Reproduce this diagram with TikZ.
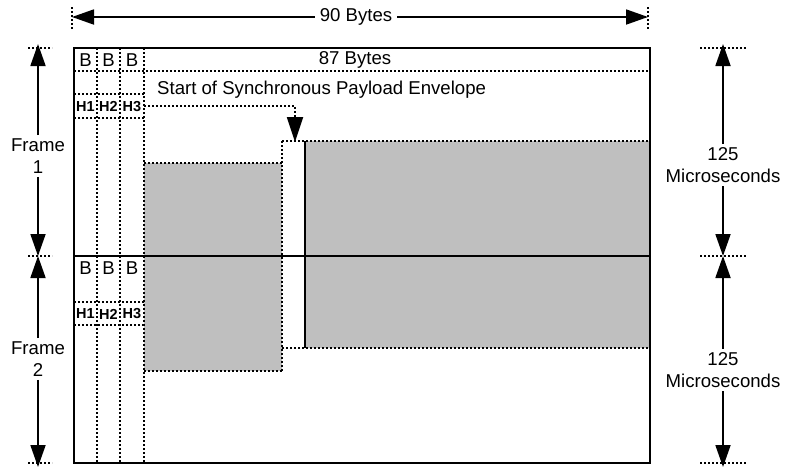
\documentclass[tikz,border=0pt]{standalone}
\usepackage{fontspec}
\setmainfont{Liberation Sans}
\usetikzlibrary{arrows.meta}
\begin{document}
\begin{tikzpicture}[x=1pt,y=-1pt,
  solidln/.style={line width=1.8pt},
  dotln/.style={line width=1.8pt,dash pattern=on 1.8pt off 2.2pt},
  arr/.style={line width=1.8pt,-{Triangle[length=22pt,width=15pt]}},
  lbl/.style={font=\fontsize{18.6}{22.5}\selectfont,inner sep=3pt,align=center},
  hlbl/.style={font=\fontsize{14.5}{16}\selectfont\bfseries,inner sep=0pt},
  blbl/.style={font=\fontsize{18.6}{22}\selectfont,inner sep=0pt},
  grayfill/.style={fill=black!25,draw=none}]
\useasboundingbox (0,0) rectangle (785,467);
% gray payload areas
\fill[grayfill] (144,163) rectangle (282,371);
\fill[grayfill] (305,141) rectangle (650,348);
% coordinates
\coordinate (tl) at (72,17);
\coordinate (tr) at (648,17);
\coordinate (f1t) at (38,44);
\coordinate (fm) at (38,256);
\coordinate (f2b) at (38,467);
\coordinate (m1t) at (723,44);
\coordinate (mm) at (723,256);
\coordinate (m2b) at (723,467);
\coordinate (spe) at (295,142);
% dotted column lines
\draw[dotln] (97,48) -- (97,463);
\draw[dotln] (120,48) -- (120,463);
\draw[dotln] (144,48) -- (144,463);
% 87 bytes line
\draw[dotln] (74,71) -- (650,71);
% H rows
\draw[dotln] (74,94) -- (144,94);
\draw[dotln] (74,118) -- (144,118);
\draw[dotln] (74,302) -- (144,302);
\draw[dotln] (74,325) -- (144,325);
% gray borders
\draw[dotln] (144,163) -- (282,163);
\draw[dotln] (144,371) -- (282,371);
\draw[dotln] (282,141) -- (282,371);
\draw[dotln] (282,141) -- (650,141);
\draw[dotln] (282,348) -- (650,348);
% ticks
\draw[dotln] (72,7) -- (72,29);
\draw[dotln] (648,7) -- (648,29);
\draw[dotln] (28,48) -- (52,48);
\draw[dotln] (28,256) -- (52,256);
\draw[dotln] (28,463) -- (52,463);
\draw[dotln] (700,48) -- (746,48);
\draw[dotln] (700,256) -- (746,256);
\draw[dotln] (700,463) -- (746,463);
% SPE pointer
\draw[dotln,-{Triangle[length=25pt,width=16pt]}] (144,106) -- (295,106) -- (spe);
% solid lines
\draw[solidln] (74,48) rectangle (650,463);
\draw[solidln] (74,256) -- (650,256);
\draw[solidln] (305,141) -- (305,348);
% labels in cells
\node[blbl] (b11) at (85.5,60) {B};
\node[blbl] (b12) at (108.5,60) {B};
\node[blbl] (b13) at (132,60) {B};
\node[blbl] (b21) at (85.5,268.5) {B};
\node[blbl] (b22) at (108.5,268.5) {B};
\node[blbl] (b23) at (132,268.5) {B};
\node[hlbl] (h11) at (85.5,106.5) {H1};
\node[hlbl] (h12) at (108.5,106.5) {H2};
\node[hlbl] (h13) at (132,106.5) {H3};
\node[hlbl] (h21) at (85.5,314) {H1};
\node[hlbl] (h22) at (108.5,314) {H2};
\node[hlbl] (h23) at (132,314) {H3};
\node[lbl,inner sep=0pt] (b87) at (355,60) {87 Bytes};
\node[lbl,inner sep=0pt,anchor=west] (spel) at (157,90) {Start of Synchronous Payload Envelope};
% dimension arrows
\node[lbl,inner sep=5pt] (b90) at (356,17) {90 Bytes};
\draw[arr] (b90) -- (tl);
\draw[arr] (b90) -- (tr);
\node[lbl] (fr1) at (38,156) {Frame\\1};
\draw[arr] (fr1) -- (f1t);
\draw[arr] (fr1) -- (fm);
\node[lbl] (fr2) at (38,359) {Frame\\2};
\draw[arr] (fr2) -- (fm);
\draw[arr] (fr2) -- (f2b);
\node[lbl] (us1) at (723,165) {125\\Microseconds};
\draw[arr] (us1) -- (m1t);
\draw[arr] (us1) -- (mm);
\node[lbl] (us2) at (723,370) {125\\Microseconds};
\draw[arr] (us2) -- (mm);
\draw[arr] (us2) -- (m2b);
\end{tikzpicture}
\end{document}
